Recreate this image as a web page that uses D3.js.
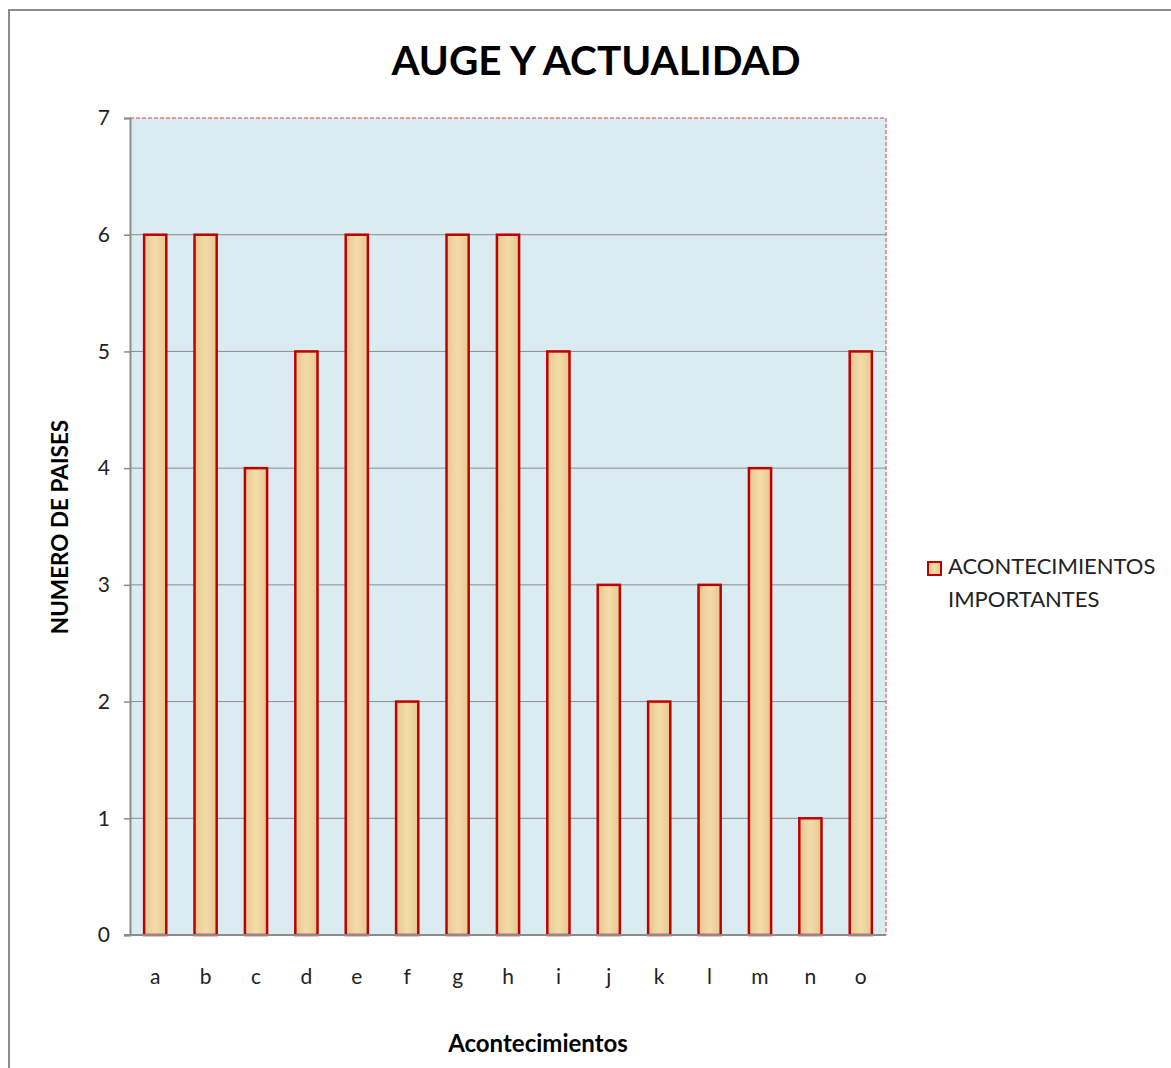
<!DOCTYPE html>
<html lang="es">
<head>
<meta charset="utf-8">
<title>Auge y actualidad</title>
<script src="https://d3js.org/d3.v7.min.js"></script>
<style>
  body { margin: 0; background: #fff; }
  text { font-family: Lato, "Open Sans", sans-serif; }
</style>
</head>
<body>
<div id="viz"></div>
<script>
// data
var categories = ["a","b","c","d","e","f","g","h","i","j","k","l","m","n","o"];
var valores = [6, 6, 4, 5, 6, 2, 6, 6, 5, 3, 2, 3, 4, 1, 5];
var yTicks = [0, 1, 2, 3, 4, 5, 6, 7];
var serieNombre = ["ACONTECIMIENTOS", "IMPORTANTES"];

var w = 1171, h = 1068;
var plot = {left: 130, right: 886, top: 118, bottom: 935};

var svg = d3.select("#viz").append("svg")
    .attr("width", w)
    .attr("height", h);

// bar texture (parchment-like)
var defs = svg.append("defs");
var grad = defs.append("linearGradient").attr("id", "barFill")
    .attr("x1", 0).attr("x2", 1).attr("y1", 0).attr("y2", 0);
grad.append("stop").attr("offset", "0%").attr("stop-color", "#e6c78f");
grad.append("stop").attr("offset", "50%").attr("stop-color", "#f3dcaa");
grad.append("stop").attr("offset", "100%").attr("stop-color", "#e6c78f");

// outer chart border
svg.append("rect")
    .attr("x", 9).attr("y", 10)
    .attr("width", 1300).attr("height", 1200)
    .attr("fill", "none")
    .attr("stroke", "#8c8c8c")
    .attr("stroke-width", 2);

var x = d3.scaleBand()
    .domain(categories)
    .range([plot.left, plot.right])
    .paddingInner(0.56)
    .paddingOuter(0.28);

var y = d3.scaleLinear()
    .domain([0, 7])
    .range([plot.bottom, plot.top]);

// plot background
svg.append("rect")
    .attr("x", plot.left).attr("y", plot.top)
    .attr("width", plot.right - plot.left)
    .attr("height", plot.bottom - plot.top)
    .attr("fill", "#daebf1");

// gridlines
svg.append("g").selectAll("line")
    .data(yTicks.slice(1, -1))
    .enter().append("line")
    .attr("x1", plot.left).attr("x2", plot.right)
    .attr("y1", function(d) { return y(d); })
    .attr("y2", function(d) { return y(d); })
    .attr("stroke", "#8c8c8c")
    .attr("stroke-width", 1);

// dashed red plot border (top and right)
svg.append("path")
    .attr("d", "M" + plot.left + "," + plot.top + "H" + plot.right + "V" + plot.bottom)
    .attr("fill", "none")
    .attr("stroke", "#e04040")
    .attr("stroke-width", 1)
    .attr("stroke-dasharray", "4,2");

// bars
svg.append("g").selectAll("rect")
    .data(valores)
    .enter().append("rect")
    .attr("x", function(d, i) { return x(categories[i]); })
    .attr("y", function(d) { return y(d); })
    .attr("width", x.bandwidth())
    .attr("height", function(d) { return y(0) - y(d); })
    .attr("fill", "url(#barFill)")
    .attr("stroke", "#c00000")
    .attr("stroke-width", 2.5);

// y axis
var yAxis = d3.axisLeft(y)
    .tickValues(yTicks)
    .tickSize(6)
    .tickPadding(14)
    .tickFormat(d3.format("d"));
var gy = svg.append("g")
    .attr("transform", "translate(" + plot.left + ",0)")
    .call(yAxis);
gy.select(".domain").attr("stroke", "#8c8c8c").attr("stroke-width", 2);
gy.selectAll(".tick line").attr("stroke", "#8c8c8c").attr("stroke-width", 1.5);
gy.selectAll(".tick text")
    .style("font-size", "21px")
    .attr("fill", "#222");

// x axis
var xAxis = d3.axisBottom(x).tickSize(0).tickPadding(34);
var gx = svg.append("g")
    .attr("transform", "translate(0," + plot.bottom + ")")
    .call(xAxis);
gx.select(".domain").attr("stroke", "#8c8c8c").attr("stroke-width", 2)
    .attr("d", "M" + (plot.left - 6) + ",0H" + plot.right);
gx.selectAll(".tick text")
    .style("font-size", "21px")
    .attr("fill", "#222");

// title
svg.append("text")
    .attr("x", 596).attr("y", 75)
    .attr("text-anchor", "middle")
    .style("font-size", "40.5px")
    .style("font-weight", "bold")
    .attr("fill", "#000")
    .text("AUGE Y ACTUALIDAD");

// axis titles
svg.append("text")
    .attr("x", 538).attr("y", 1052)
    .attr("text-anchor", "middle")
    .style("font-size", "24px")
    .style("font-weight", "bold")
    .text("Acontecimientos");

svg.append("text")
    .attr("transform", "translate(68,527) rotate(-90)")
    .attr("text-anchor", "middle")
    .style("font-size", "22.5px")
    .style("font-weight", "bold")
    .text("NUMERO DE PAISES");

// legend
var legend = svg.append("g").attr("transform", "translate(927,561)");
legend.append("rect")
    .attr("x", 1).attr("y", 1)
    .attr("width", 13).attr("height", 13)
    .attr("fill", "url(#barFill)")
    .attr("stroke", "#c00000")
    .attr("stroke-width", 2);
legend.selectAll("text.lg")
    .data(serieNombre)
    .enter().append("text")
    .attr("class", "lg")
    .attr("x", 21)
    .attr("y", function(d, i) { return 13 + i * 33; })
    .style("font-size", "22px")
    .attr("fill", "#222")
    .text(function(d) { return d; });
</script>
</body>
</html>
